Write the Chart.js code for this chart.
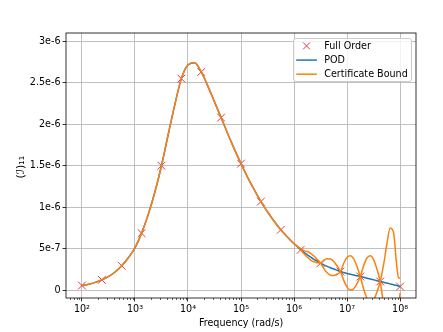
<!DOCTYPE html>
<html>
<head>
<meta charset="utf-8">
<script src="https://cdn.jsdelivr.net/npm/chart.js@4.4.1/dist/chart.umd.min.js"></script>
<style>
  body { margin: 0; background: #fff; }
  canvas { display: block; }
</style>
</head>
<body>
<canvas id="chart" width="443" height="332"></canvas>
<script>
// all y values are in units of 1e-6 (the axis labels carry the exponent)

// snapshots (Full Order)
var fullFreq = [1e2, 2.371e2, 5.623e2, 1.334e3, 3.162e3, 7.499e3, 1.778e4, 4.217e4, 1e5,
                2.371e5, 5.623e5, 1.334e6, 3.162e6, 7.499e6, 1.778e7, 4.217e7, 1e8];
var fullVals = [0.055, 0.124, 0.293, 0.687, 1.50, 2.55, 2.63, 2.08, 1.525,
                1.067, 0.727, 0.486, 0.325, 0.224, 0.164, 0.104, 0.043];

// POD curve, low range (bound sits on top of it here)
var lowFreq = [100, 133.4, 177.8, 237.1, 316.2, 421.7, 562.3, 749.9, 1000, 1334, 1778, 2371, 3162,
               4217, 5623, 7499, 1e4, 1.334e4, 1.778e4, 2.371e4, 3.162e4, 4.217e4, 5.623e4, 7.499e4,
               1e5, 1.334e5, 1.778e5, 2.371e5, 3.162e5, 4.217e5, 5.623e5, 7.499e5, 1e6];
var podLow = [0.052, 0.070, 0.093, 0.124, 0.163, 0.218, 0.293, 0.39, 0.51, 0.687, 0.91, 1.18, 1.50,
              1.87, 2.23, 2.55, 2.715, 2.74, 2.63, 2.46, 2.27, 2.08, 1.885, 1.70,
              1.525, 1.36, 1.21, 1.067, 0.945, 0.83, 0.727, 0.64, 0.56];

// high range, where the two bound branches split apart
var highFreq = [1.334e6, 1.540e6, 1.778e6, 2.054e6, 2.371e6, 2.738e6, 3.162e6, 3.652e6, 4.217e6,
                4.870e6, 5.623e6, 6.494e6, 7.499e6, 8.660e6, 1e7, 1.155e7, 1.334e7, 1.540e7, 1.778e7,
                2.054e7, 2.371e7, 2.738e7, 3.162e7, 3.652e7, 4.217e7, 4.870e7, 5.623e7, 6.494e7,
                7.499e7, 8.660e7, 9.33e7, 1e8];
var podHigh = [0.486, 0.455, 0.426, 0.398, 0.372, 0.348, 0.325, 0.305, 0.287,
               0.270, 0.254, 0.239, 0.224, 0.212, 0.201, 0.191, 0.182, 0.173, 0.164,
               0.154, 0.144, 0.134, 0.124, 0.114, 0.104, 0.094, 0.085, 0.075,
               0.065, 0.055, 0.049, 0.043];
var boundA = [0.486, 0.477, 0.465, 0.443, 0.411, 0.370, 0.325, 0.260, 0.209,
              0.180, 0.176, 0.194, 0.224, 0.324, 0.395, 0.415, 0.376, 0.285, 0.164,
              0.014, -0.099, -0.146, -0.119, -0.026, 0.104, 0.30, 0.55, 0.75,
              0.70, 0.29, 0.15, 0.145];
var boundB = [0.486, 0.438, 0.396, 0.363, 0.342, 0.331, 0.325, 0.357, 0.378,
              0.375, 0.345, 0.291, 0.224, 0.117, 0.036, 0.001, 0.017, 0.078, 0.164,
              0.294, 0.387, 0.414, 0.367, 0.254, 0.104, -0.18, -0.5, -0.65,
              -0.6, -0.3, -0.2, -0.035];

var xTickVals = [1e2, 1e3, 1e4, 1e5, 1e6, 1e7, 1e8];
var xTickLabels = ['10²', '10³', '10⁴', '10⁵', '10⁶', '10⁷', '10⁸'];
var yTickVals = [0, 0.5, 1, 1.5, 2, 2.5, 3];
var yTickLabels = ['0', '5e-7', '1e-6', '1.5e-6', '2e-6', '2.5e-6', '3e-6'];

var RED = 'rgb(232,56,60)';
var BLUE = '#1f77b4';
var ORANGE = '#ff7f0e';
var FONT = {family: '"DejaVu Sans"', size: 9.6};

function pts(xs, ys) {
  var out = [];
  for (var i = 0; i < xs.length; i++) out.push({x: xs[i], y: ys[i]});
  return out;
}

// frame, minor ticks and legend box in matplotlib style
var mplExtras = {
  id: 'mplExtras',
  afterDraw: function(chart) {
    var ctx = chart.ctx, a = chart.chartArea, xs = chart.scales.x;
    ctx.save();
    ctx.strokeStyle = '#000';
    ctx.lineWidth = 0.8;
    ctx.strokeRect(a.left, a.top, a.right - a.left, a.bottom - a.top);

    ctx.lineWidth = 0.6;
    ctx.beginPath();
    for (var e = 1; e <= 8; e++) {
      for (var m = 2; m <= 9; m++) {
        var v = m * Math.pow(10, e);
        if (v < xs.min || v > xs.max) continue;
        var px = Math.round(xs.getPixelForValue(v)) + 0.5;
        ctx.moveTo(px, a.bottom);
        ctx.lineTo(px, a.bottom + 2);
      }
    }
    ctx.stroke();

    // legend
    var w = 118, h = 43;
    var x0 = a.right - 4.5 - w, y0 = a.top + 5.5;
    ctx.fillStyle = 'rgba(255,255,255,0.8)';
    ctx.strokeStyle = '#cccccc';
    ctx.lineWidth = 1;
    ctx.beginPath();
    ctx.roundRect(x0, y0, w, h, 2.5);
    ctx.fill();
    ctx.stroke();

    var rows = [y0 + 7.4, y0 + 21.6, y0 + 35.7];
    var hx0 = x0 + 2.7, hx1 = x0 + 23.4, hc = (hx0 + hx1) / 2;
    ctx.strokeStyle = RED;
    ctx.lineWidth = 1;
    ctx.beginPath();
    ctx.moveTo(hc - 3.5, rows[0] - 3.5); ctx.lineTo(hc + 3.5, rows[0] + 3.5);
    ctx.moveTo(hc + 3.5, rows[0] - 3.5); ctx.lineTo(hc - 3.5, rows[0] + 3.5);
    ctx.stroke();
    ctx.lineWidth = 1.5;
    ctx.strokeStyle = BLUE;
    ctx.beginPath(); ctx.moveTo(hx0, rows[1]); ctx.lineTo(hx1, rows[1]); ctx.stroke();
    ctx.strokeStyle = ORANGE;
    ctx.beginPath(); ctx.moveTo(hx0, rows[2]); ctx.lineTo(hx1, rows[2]); ctx.stroke();

    ctx.fillStyle = '#000';
    ctx.font = '9.6px "DejaVu Sans"';
    ctx.textBaseline = 'middle';
    var names = ['Full Order', 'POD', 'Certificate Bound'];
    for (var i = 0; i < 3; i++) ctx.fillText(names[i], x0 + 30.7, rows[i] + 0.5);
    ctx.restore();
  }
};

new Chart(document.getElementById('chart'), {
  type: 'line',
  data: {
    datasets: [{
      label: 'Certificate Bound',
      data: pts(lowFreq, podLow).concat(pts(highFreq.slice(1), boundA.slice(1))),
      borderColor: ORANGE, borderWidth: 1.5, pointRadius: 0,
      cubicInterpolationMode: 'monotone', order: 1
    }, {
      label: 'Certificate Bound (lower)',
      data: pts(highFreq, boundB),
      borderColor: ORANGE, borderWidth: 1.5, pointRadius: 0,
      cubicInterpolationMode: 'monotone', order: 1
    }, {
      label: 'POD',
      data: pts(lowFreq, podLow).concat(pts(highFreq.slice(1), podHigh.slice(1))),
      borderColor: BLUE, borderWidth: 1.5, pointRadius: 0,
      cubicInterpolationMode: 'monotone', order: 2
    }, {
      label: 'Full Order',
      data: pts(fullFreq, fullVals),
      showLine: false, pointStyle: 'crossRot', pointRadius: 5.5,
      pointBorderWidth: 1, pointBorderColor: RED, pointBackgroundColor: RED,
      borderColor: RED, order: 3
    }]
  },
  options: {
    responsive: false,
    animation: false,
    devicePixelRatio: 1,
    layout: {padding: {left: 10, right: 27, top: 33, bottom: 0}},
    plugins: {legend: {display: false}, tooltip: {enabled: false}},
    scales: {
      x: {
        type: 'logarithmic', min: 50.1, max: 1.995e8, bounds: 'data',
        afterBuildTicks: function(s) { s.ticks = xTickVals.map(function(v) { return {value: v}; }); },
        afterFit: function(s) { s.height = 34; },
        grid: {color: '#b0b0b0', lineWidth: 0.8, tickColor: '#000', tickLength: 3.5},
        border: {display: false},
        ticks: {
          color: '#000', font: FONT, padding: 2, maxRotation: 0, autoSkip: false,
          callback: function(v, i) { return xTickLabels[i]; }
        },
        title: {display: true, text: 'Frequency (rad/s)', color: '#000', font: FONT,
                padding: {top: 0, bottom: 3}}
      },
      y: {
        type: 'linear', min: -0.095, max: 3.1, bounds: 'data',
        afterBuildTicks: function(s) { s.ticks = yTickVals.map(function(v) { return {value: v}; }); },
        afterFit: function(s) { s.width = 56; },
        grid: {color: '#b0b0b0', lineWidth: 0.8, tickColor: '#000', tickLength: 3.5},
        border: {display: false},
        ticks: {
          color: '#000', font: FONT, padding: 2, autoSkip: false,
          callback: function(v, i) { return yTickLabels[i]; }
        },
        title: {display: true, text: '(ℐ)₁₁ ', color: '#000',
                font: {family: '"DejaVu Sans"', size: 11},
                padding: {top: 4.5, bottom: 0}}
      }
    }
  },
  plugins: [mplExtras]
});
</script>
</body>
</html>
